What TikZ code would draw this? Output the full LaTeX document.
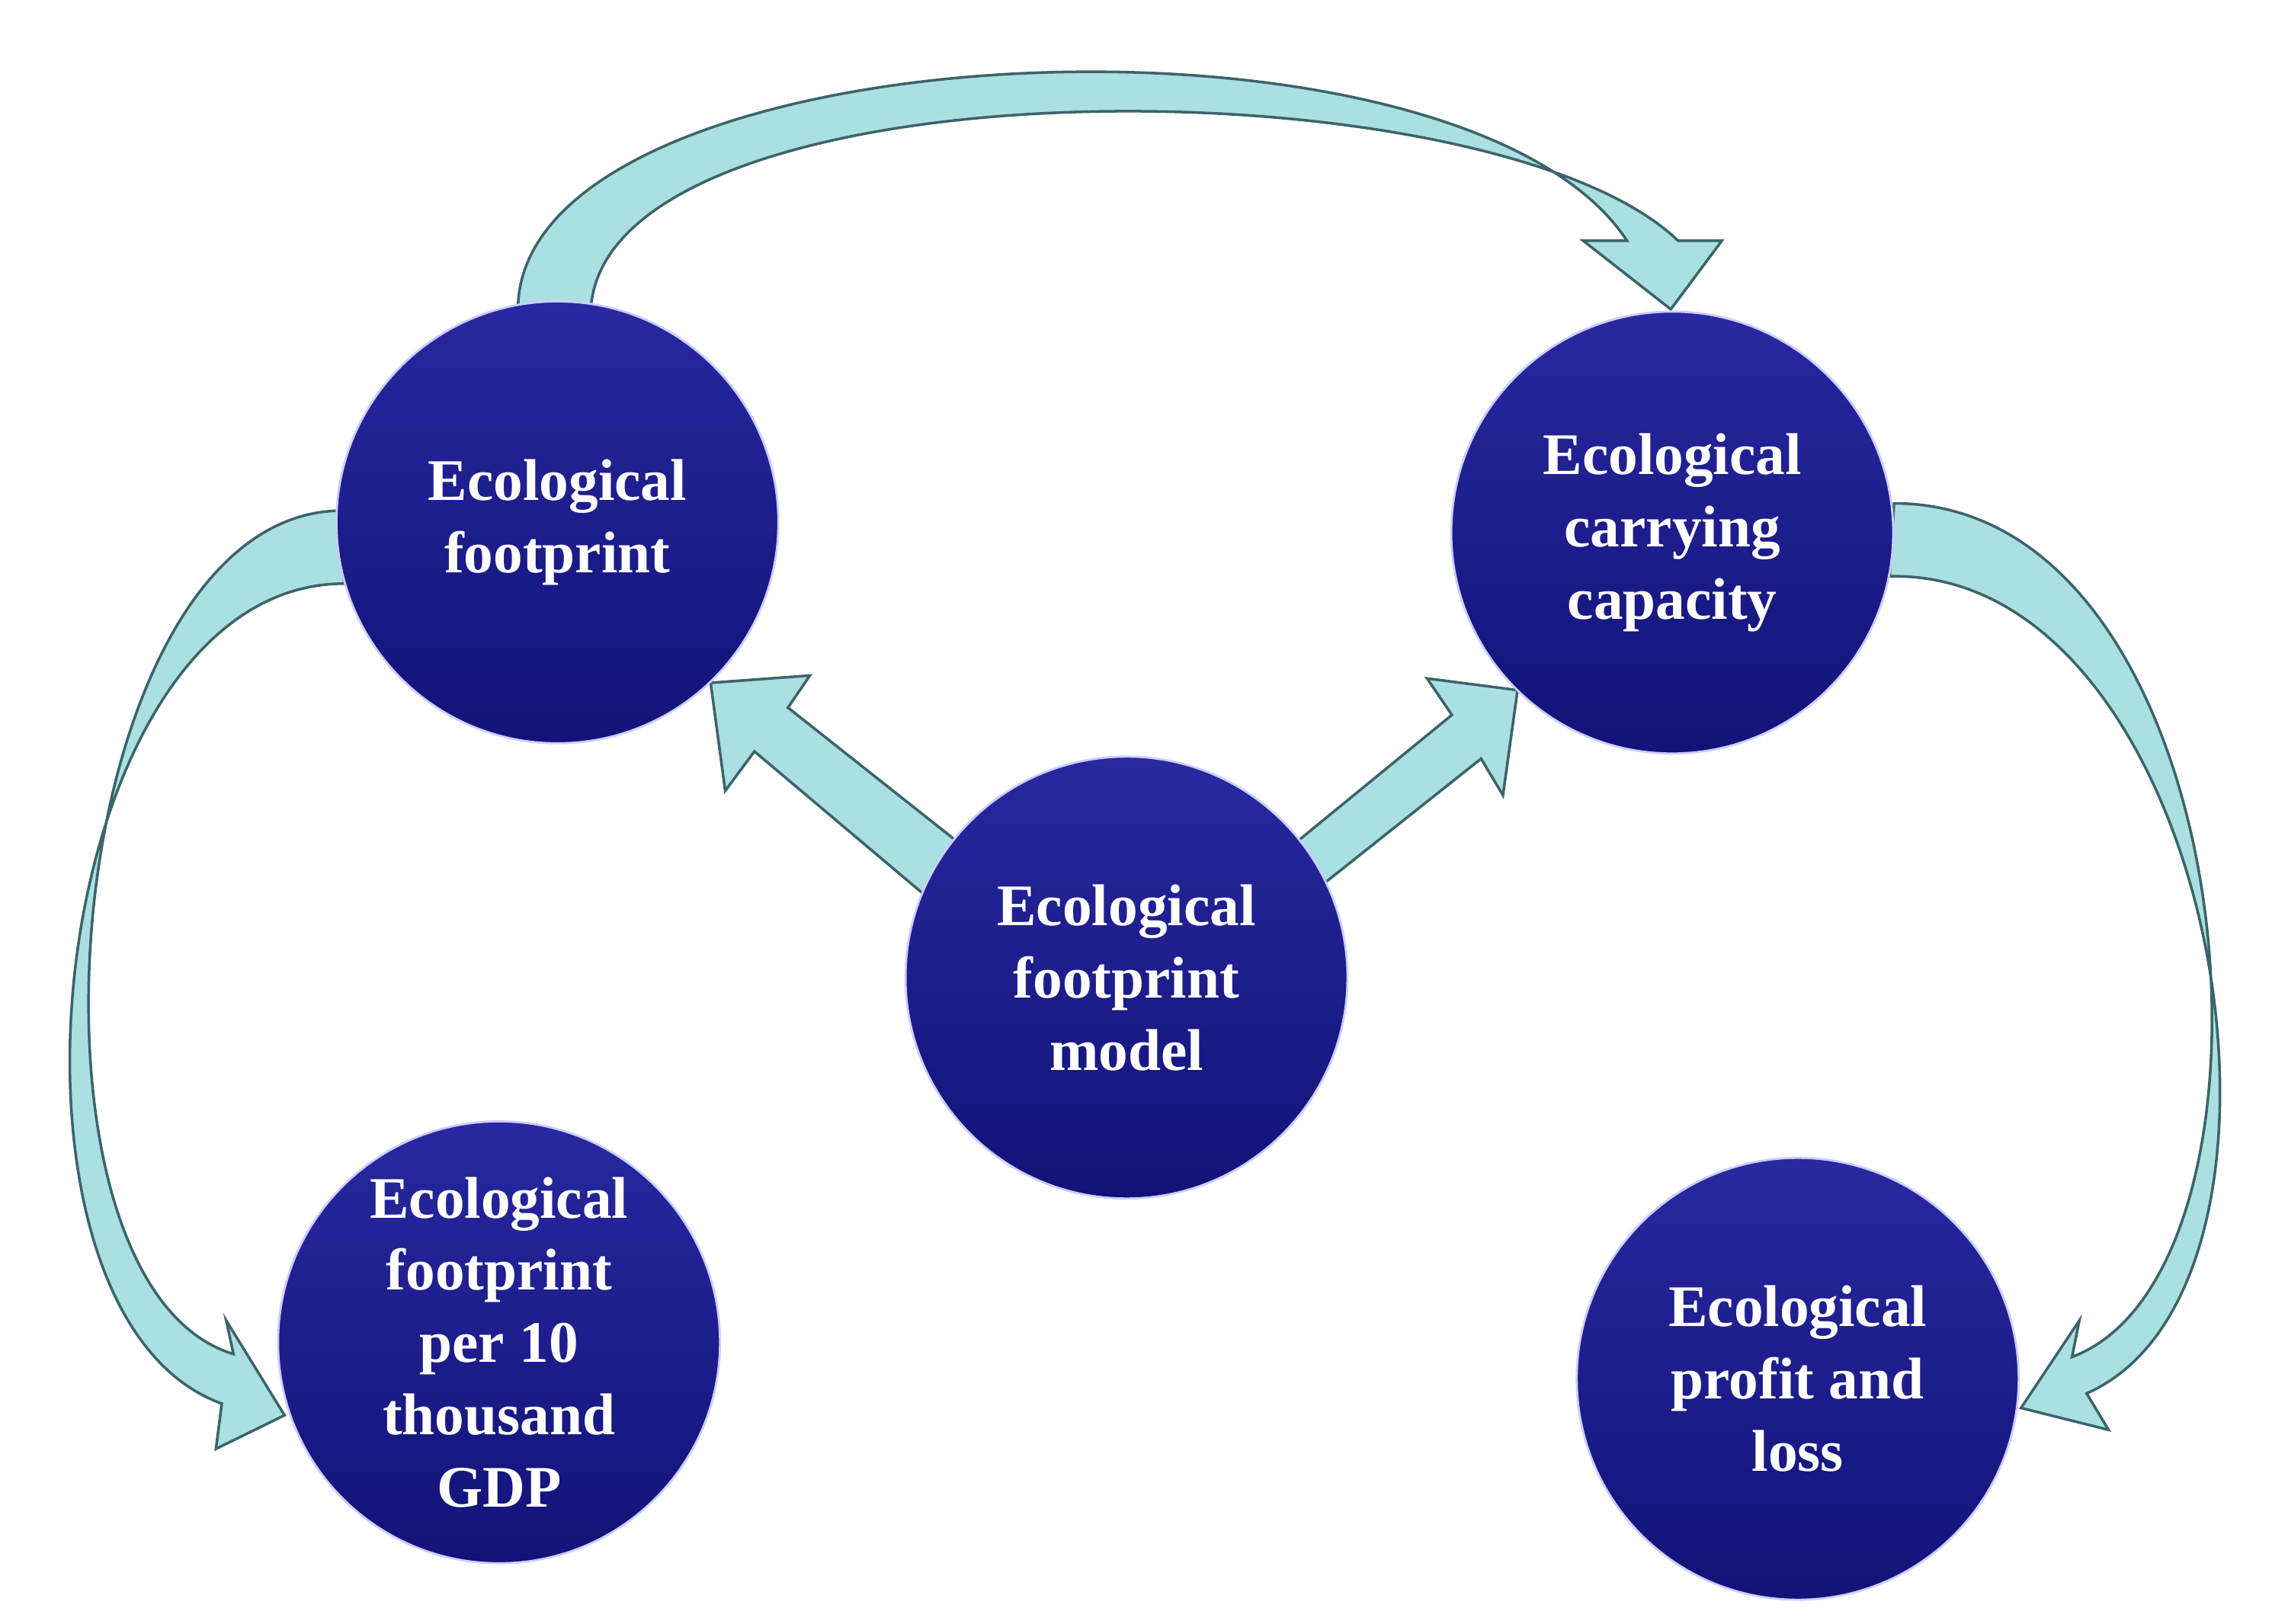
\documentclass[tikz,border=0pt]{standalone}
\usepackage{fontspec}
\setmainfont{Liberation Serif}
\usetikzlibrary{positioning}
\definecolor{navy}{RGB}{18,18,120}
\definecolor{navytop}{RGB}{40,40,160}
\definecolor{aqua}{RGB}{170,224,226}
\definecolor{teal}{RGB}{60,100,105}
\tikzset{
topic/.style={circle, minimum size=5.8cm, top color=navytop, bottom color=navy, draw=blue!20, line width=0.8pt, text=white, font=\bfseries\fontsize{22}{27}\selectfont, align=center, inner sep=0pt}, % every circle
band/.style={fill=aqua, draw=teal, line width=1pt}, % the arrows
}
\begin{document}
\begin{tikzpicture}[x=0.019145cm, y=-0.019145cm]
\useasboundingbox (0,0) rectangle (1568,1113);

% curved arrows
\draw[band] (355,210) .. controls (360,20) and (1000,-10) .. (1115,165) -- (1085,165) -- (1145,212) -- (1180,165) -- (1150,165) .. controls (1020,40) and (420,40) .. (405,210) -- cycle;
\draw[band] (232,350) .. controls (40,355) and (0,880) .. (160,928) -- (155,905) -- (195,970) -- (148,993) -- (152,962) .. controls (-20,900) and (30,400) .. (236,400) -- cycle;
\draw[band] (1298,345) .. controls (1540,345) and (1580,870) .. (1420,930) -- (1425,905) -- (1385,965) -- (1445,980) -- (1430,955) .. controls (1600,880) and (1520,390) .. (1295,395) -- cycle;

% straight arrows
\draw[band] (487,468) -- (555,463) -- (540,485) -- (660,580) -- (632,612) -- (517,515) -- (497,542) -- cycle;
\draw[band] (1040,473) -- (1030,545) -- (1015,520) -- (908,605) -- (885,580) -- (995,490) -- (978,465) -- cycle;

\node[topic] at (382,358) (fp) {Ecological\\footprint};
\node[topic] at (1146,365) (cap) {Ecological\\carrying\\capacity};
\node[topic] at (772,670) (model) {Ecological\\footprint\\model};
\node[topic] at (342,920) (gdp) {Ecological\\footprint\\per 10\\thousand\\GDP};
\node[topic] at (1232,945) (profit) {Ecological\\profit and\\loss};

\end{tikzpicture}
\end{document}
